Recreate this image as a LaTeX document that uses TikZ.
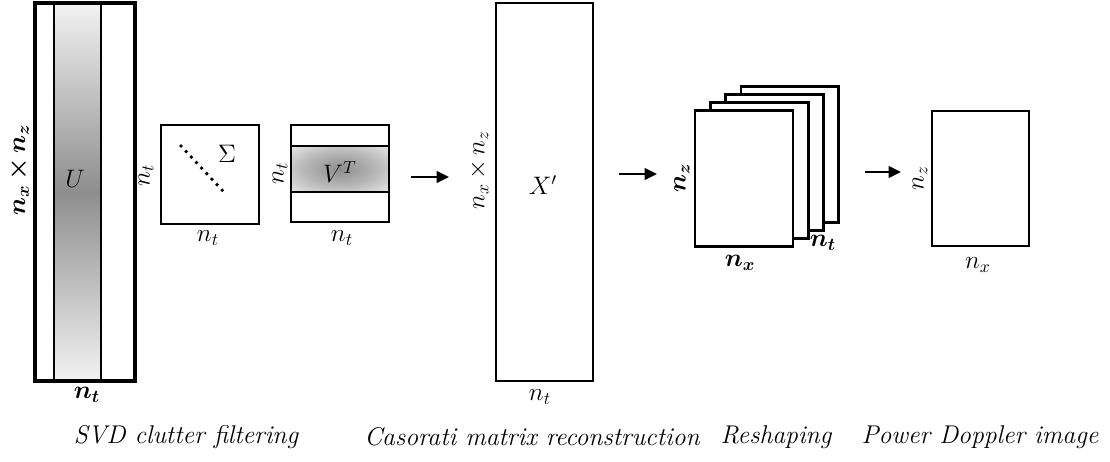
\documentclass[tikz,border=0pt]{standalone}
\usepackage{amsmath,bm}
\usetikzlibrary{arrows.meta,positioning,calc}
\definecolor{mtnoir}{HTML}{000000}
\definecolor{mtgris}{HTML}{8E8E8E}
\definecolor{mtpale}{HTML}{F2F2F2}
\pgfdeclareradialshading{bande}{\pgfpoint{0bp}{0bp}}{color(0bp)=(mtgris); color(18bp)=(mtgris!65!white); color(34bp)=(mtgris!25!white); color(46bp)=(mtgris!6!white); color(70bp)=(white)}

\begin{document}
\begin{tikzpicture}[x=0.02cm, y=-0.02cm,
    every node/.style={font=\fontsize{14}{16}\selectfont},
    mat/.style={draw=mtnoir, line width=1.6pt, inner sep=0pt, outer sep=0pt},
    fleche/.style={-{Triangle[length=7pt,width=6.5pt]}, line width=1.5pt, mtnoir},
    legende/.style={font=\fontsize{14.6}{17}\selectfont\itshape}]
  \useasboundingbox (0,0) rectangle (1110,461);
  % --- Matrice U ---
  \node[mat, line width=2.2pt, minimum width=2cm, minimum height=7.56cm] (U) at (85,192) {};
  \shade[top color=mtpale, bottom color=mtpale, middle color=mtgris]
    ($(U.north west)+(19,0)$) rectangle ($(U.south east)+(-34,0)$);
  \draw[line width=1.2pt] ($(U.north west)+(19,0)$) -- ($(U.south west)+(19,0)$);
  \draw[line width=1.2pt] ($(U.north east)+(-34,0)$) -- ($(U.south east)+(-34,0)$);
  \draw[line width=2.2pt] (U.north west) rectangle (U.south east);
  \node (tU) at (75,179) {$U$};
  \node[rotate=90] (lUg) at (19,170) {$\bm{n_x\,{\times}\,n_z}$};
  \node (lUb) at (87,395) {$\bm{n_t}$};
  % --- Matrice Sigma ---
  \node[mat, minimum width=1.96cm, minimum height=1.98cm] (Sig) at (210,174.5) {};
  \draw[line width=2.2pt, line cap=round, dash pattern=on 0pt off 4.3pt]
    ($(Sig.north west)+(20,21)$) -- ($(Sig.north west)+(62,66)$);
  \node (tSig) at (227,154) {$\Sigma$};
  \node[rotate=90] (lSigg) at (146,175) {$n_t$};
  \node (lSigb) at (208,238) {$n_t$};
  % --- Matrice V^T ---
  \node[mat, minimum width=1.96cm, minimum height=1.94cm] (VT) at (340,173.5) {};
  \shade[shading=bande]
    ($(VT.north west)+(0,21)$) rectangle ($(VT.north east)+(0,67)$);
  \draw[line width=1.6pt] ($(VT.north west)+(0,21)$) -- ($(VT.north east)+(0,21)$);
  \draw[line width=1.6pt] ($(VT.north west)+(0,67)$) -- ($(VT.north east)+(0,67)$);
  \draw[line width=1.6pt] (VT.north west) rectangle (VT.south east);
  \node (tVT) at (340,172) {$V^T$};
  \node[rotate=90] (lVTg) at (280,173) {$n_t$};
  \node (lVTb) at (342,238) {$n_t$};
  % Fleche 1
  \coordinate (f1a) at (411,177);
  \coordinate (f1b) at (449,177);
  \draw[fleche] (f1a) -- (f1b);
  % --- Matrice de Casorati X' ---
  \node[mat, minimum width=1.94cm, minimum height=7.56cm] (XP) at (544.5,192) {};
  \node (tXP) at (543,185) {$X'$};
  \node[rotate=90] (lXPg) at (479,170) {$n_x\,{\times}\,n_z$};
  \node (lXPb) at (540,397) {$n_t$};
  % Fleche 2
  \coordinate (f2a) at (619,174);
  \coordinate (f2b) at (657,174);
  \draw[fleche] (f2a) -- (f2b);
  % --- Pile d'images (reshaping) ---
  \foreach \k in {3,2,1}
    \node[mat, fill=white, minimum width=1.96cm, minimum height=2.72cm] (st\k) at ({744+15.3*\k},{178.5-8*\k}) {};
  \node[mat, fill=white, minimum width=1.96cm, minimum height=2.72cm] (st0) at (744,178.5) {};
  \node[rotate=90] (lStg) at (682,178) {$\bm{n_z}$};
  \node (lStb) at (740,263) {$\bm{n_x}$};
  \node (lStt) at (823,243) {$\bm{n_t}$};
  % Fleche 3
  \coordinate (f3a) at (865,172);
  \coordinate (f3b) at (901,172);
  \draw[fleche] (f3a) -- (f3b);
  % --- Image Power Doppler ---
  \node[mat, minimum width=1.94cm, minimum height=2.7cm] (PD) at (980.5,178.5) {};
  \node[rotate=90] (lPDg) at (920,178) {$n_z$};
  \node (lPDb) at (978,265) {$n_x$};
  % Legendes
  \node[legende] (cap1) at (186,437) {SVD clutter filtering};
  \node[legende] (cap2) at (532,437) {Casorati matrix reconstruction};
  \node[legende] (cap3) at (776,437) {Reshaping};
  \node[legende] (cap4) at (980,437) {Power Doppler image};
\end{tikzpicture}
\end{document}
